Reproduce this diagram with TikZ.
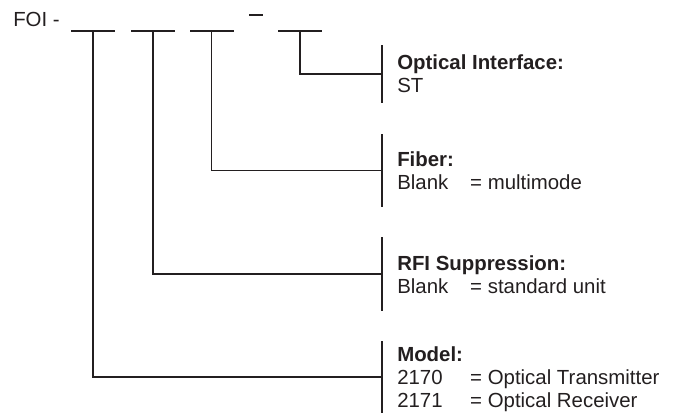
\documentclass[tikz,border=0pt]{standalone}
\usepackage{fontspec}
\setmainfont{Liberation Sans}
\usepackage{xcolor}
\definecolor{inkGray}{HTML}{231F20}
\usetikzlibrary{positioning}
\tikzset{
    % Base style for all texts (anchored at the last line's baseline)
    field text/.style={
        font=\fontsize{15.3pt}{16.9pt}\selectfont,
        text=inkGray,
        align=left,
        inner sep=0pt,
        anchor=base west,
    },
    % Blank slot of the order code
    blank/.style={
        fill=inkGray,
        inner sep=0pt,
        minimum width=33pt,
        minimum height=1.2pt,
    },
    % Short raised hyphen between the slots
    hyphen/.style={
        blank,
        minimum width=10.5pt,
    },
    % Vertical bar in front of each field text
    bar/.style={
        fill=inkGray,
        inner sep=0pt,
        minimum width=1.6pt,
        minimum height=#1*0.75pt,
    },
    % Leader line from slot to bar
    leader/.style={
        draw=inkGray,
        line width=1.3pt,
    },
}
\newcommand{\fieldrow}[2]{\makebox[54.75pt][l]{#1}#2}

\begin{document}
\begin{tikzpicture}[x=0.75pt, y=-0.75pt]
    \useasboundingbox (0,0) rectangle (674,412);

    \node (foi) [field text] at (13,26) {FOI -};
    \node (model) [blank] at (93,31) {};
    \node (rfi) [blank] at (153,31) {};
    \node (fiber) [blank] at (211.5,31) {};
    \node (dash) [hyphen] at (256,15) {};
    \node (iface) [blank] at (300,31) {};

    \node (ifacebar) [bar=58] at (382,74) {};
    \node (fiberbar) [bar=73] at (382,170.5) {};
    \node (rfibar) [bar=74] at (382,274) {};
    \node (modelbar) [bar=72] at (382,377) {};

    \node (ifacetext) [field text] at (397,92) {\textbf{Optical Interface:}\\ST};
    \node (fibertext) [field text] at (397,189) {\textbf{Fiber:}\\\fieldrow{Blank}{= multimode}};
    \node (rfitext) [field text] at (397,293) {\textbf{RFI Suppression:}\\\fieldrow{Blank}{= standard unit}};
    \node (modeltext) [field text] at (397,407) {\textbf{Model:}\\\fieldrow{2170}{= Optical Transmitter}\\\fieldrow{2171}{= Optical Receiver}};

    \draw [leader] (iface.center) |- (ifacebar.west);
    \draw [leader] (fiber.center) |- (fiberbar.west);
    \draw [leader] (rfi.center) |- (rfibar.west);
    \draw [leader] (model.center) |- (modelbar.west);
\end{tikzpicture}
\end{document}
